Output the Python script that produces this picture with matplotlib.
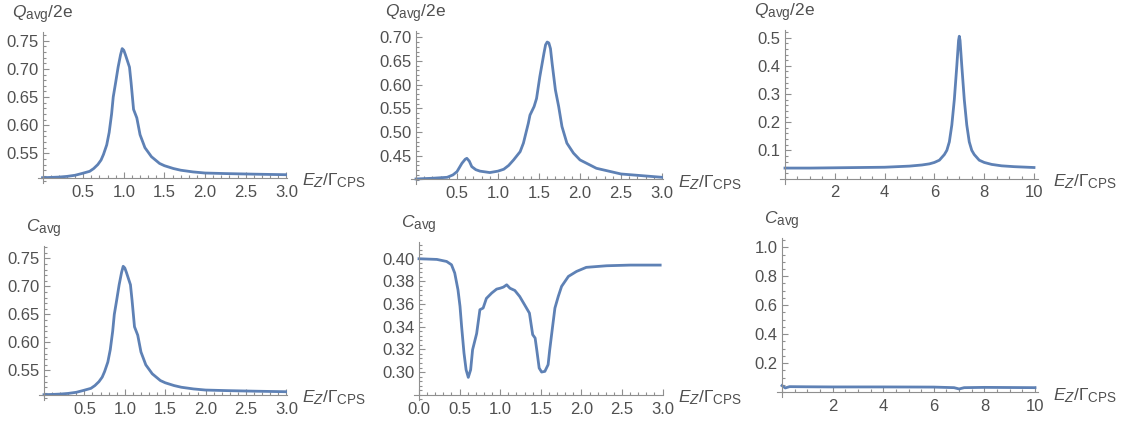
import matplotlib
matplotlib.use('Agg')
import matplotlib.pyplot as plt
from matplotlib.ticker import FixedLocator, FixedFormatter, MultipleLocator

try:
    import matplotlib._mathtext as _mt
    _mt.SHRINK_FACTOR = 0.78
except Exception:
    pass

plt.rcParams.update({
    'font.family': ['Liberation Sans', 'DejaVu Sans'],
    'mathtext.fontset': 'custom',
    'mathtext.rm': 'Liberation Sans',
    'mathtext.it': 'Liberation Sans:italic',
    'mathtext.bf': 'Liberation Sans:bold',
})

# ---------------- data ----------------
q_left_x = [0.00, 0.10, 0.20, 0.30, 0.40, 0.48, 0.53, 0.58, 0.63, 0.68, 0.72, 0.75, 0.79, 0.82,
            0.85, 0.87, 0.90, 0.93, 0.96, 0.98, 1.00, 1.02, 1.07, 1.09, 1.12, 1.16, 1.20, 1.26,
            1.34, 1.44, 1.50, 1.61, 1.70, 1.85, 2.00, 2.26, 2.60, 3.00]
q_left_y = [0.5067, 0.5072, 0.5078, 0.509, 0.511, 0.514, 0.516, 0.518, 0.523, 0.530, 0.538, 0.548,
            0.565, 0.587, 0.620, 0.650, 0.676, 0.703, 0.725, 0.736, 0.733, 0.725, 0.703, 0.675,
            0.628, 0.613, 0.583, 0.560, 0.544, 0.532, 0.528, 0.523, 0.520, 0.517, 0.515, 0.514,
            0.513, 0.512]

q_mid_x = [0.00, 0.20, 0.38, 0.45, 0.50, 0.56, 0.60, 0.62, 0.65, 0.68, 0.73, 0.78, 0.90, 1.00,
           1.07, 1.13, 1.19, 1.27, 1.31, 1.37, 1.39, 1.44, 1.47, 1.51, 1.56, 1.58, 1.60, 1.62,
           1.64, 1.66, 1.70, 1.74, 1.78, 1.84, 1.92, 2.00, 2.20, 2.50, 3.00]
q_mid_y = [0.4015, 0.403, 0.405, 0.410, 0.417, 0.4345, 0.443, 0.445, 0.439, 0.4275, 0.421, 0.418,
           0.415, 0.418, 0.422, 0.430, 0.4416, 0.459, 0.477, 0.519, 0.536, 0.554, 0.571, 0.617,
           0.666, 0.684, 0.690, 0.688, 0.676, 0.645, 0.589, 0.554, 0.512, 0.477, 0.456, 0.4416,
           0.424, 0.412, 0.405]

q_right_x = [0.0, 1.0, 2.0, 3.0, 4.0, 4.5, 5.0, 5.5, 5.8, 6.0, 6.2, 6.4, 6.5, 6.6, 6.7, 6.8, 6.9,
             6.97, 7.0, 7.03, 7.1, 7.2, 7.3, 7.4, 7.5, 7.6, 7.8, 8.0, 8.3, 8.7, 9.2, 10.0]
q_right_y = [0.037, 0.037, 0.038, 0.039, 0.040, 0.042, 0.044, 0.048, 0.052, 0.057, 0.065, 0.085,
             0.10, 0.13, 0.19, 0.28, 0.40, 0.49, 0.505, 0.49, 0.40, 0.28, 0.19, 0.13, 0.10, 0.085,
             0.065, 0.057, 0.050, 0.045, 0.042, 0.039]

c_left_x = list(q_left_x)
c_left_y = list(q_left_y)

c_mid_x = [0.00, 0.22, 0.34, 0.40, 0.44, 0.48, 0.505, 0.525, 0.554, 0.58, 0.607, 0.636, 0.66,
           0.71, 0.75, 0.79, 0.83, 0.895, 0.956, 1.00, 1.04, 1.08, 1.12, 1.18, 1.24, 1.30, 1.36,
           1.40, 1.43, 1.45, 1.48, 1.51, 1.55, 1.59, 1.61, 1.645, 1.674, 1.715, 1.756, 1.84,
           1.94, 2.06, 2.31, 2.60, 2.97]
c_mid_y = [0.400, 0.3994, 0.3976, 0.3947, 0.3874, 0.3726, 0.358, 0.340, 0.3168, 0.302, 0.2953,
           0.302, 0.3197, 0.334, 0.355, 0.3565, 0.365, 0.3697, 0.3732, 0.374, 0.375, 0.377, 0.374,
           0.372, 0.3667, 0.3594, 0.352, 0.333, 0.330, 0.3197, 0.3035, 0.300, 0.3006, 0.3065,
           0.3197, 0.340, 0.3565, 0.3667, 0.3756, 0.3844, 0.3888, 0.3924, 0.3938, 0.3944, 0.3944]

c_right_x = [0.0, 0.13, 0.3, 1.0, 2.0, 4.0, 6.0, 6.8, 7.0, 7.2, 8.0, 10.0]
c_right_y = [0.044, 0.028, 0.037, 0.036, 0.035, 0.035, 0.034, 0.030, 0.021, 0.030, 0.032, 0.030]

# tick values / labels
xt_short = [0.5, 1.0, 1.5, 2.0, 2.5, 3.0]
xt_short_lbl = ['0.5', '1.0', '1.5', '2.0', '2.5', '3.0']
xt_short0 = [0.0, 0.5, 1.0, 1.5, 2.0, 2.5, 3.0]
xt_short0_lbl = ['0.0', '0.5', '1.0', '1.5', '2.0', '2.5', '3.0']
xt_long = [2, 4, 6, 8, 10]
xt_long_lbl = ['2', '4', '6', '8', '10']
yt_q_left = [0.55, 0.60, 0.65, 0.70, 0.75]
yt_q_left_lbl = ['0.55', '0.60', '0.65', '0.70', '0.75']
yt_q_mid = [0.45, 0.50, 0.55, 0.60, 0.65, 0.70]
yt_q_mid_lbl = ['0.45', '0.50', '0.55', '0.60', '0.65', '0.70']
yt_q_right = [0.1, 0.2, 0.3, 0.4, 0.5]
yt_q_right_lbl = ['0.1', '0.2', '0.3', '0.4', '0.5']
yt_c_mid = [0.30, 0.32, 0.34, 0.36, 0.38, 0.40]
yt_c_mid_lbl = ['0.30', '0.32', '0.34', '0.36', '0.38', '0.40']
yt_c_right = [0.2, 0.4, 0.6, 0.8, 1.0]
yt_c_right_lbl = ['0.2', '0.4', '0.6', '0.8', '1.0']

q_label = r'$Q_{\mathrm{avg}}$/2e'
c_label = r'$C_{\mathrm{avg}}$'
x_label = r'$E_Z$/Γ$_{\mathrm{CPS}}$'

# ---------------- style ----------------
LINE = '#5E81B5'
AXC = '#8f8f8f'
TXT = '#505050'
FS = 12
FS_LAB = 12.5
W, H = 1140, 426

fig = plt.figure(figsize=(W / 100, H / 100), dpi=100)


def panel(px0, sx, py0, v0, sy, ptop, pright, ext=5):
    left = px0 - ext
    bottom_px = py0 + ext
    ax = fig.add_axes([left / W, (H - bottom_px) / H, (pright - left) / W, (bottom_px - ptop) / H])
    ax.set_xlim(-ext / sx, (pright - px0) / sx)
    ax.set_ylim(v0 - ext / sy, v0 + (py0 - ptop) / sy)
    ax.patch.set_alpha(0)
    for s in ('top', 'right'):
        ax.spines[s].set_visible(False)
    ax.spines['left'].set_position(('data', 0))
    ax.spines['bottom'].set_position(('data', v0))
    for s in ('left', 'bottom'):
        ax.spines[s].set_color(AXC)
        ax.spines[s].set_linewidth(0.8)
    ax.tick_params(which='both', direction='in', color=AXC, width=0.8,
                   labelcolor=TXT, labelsize=FS)
    ax.tick_params(which='major', length=4)
    ax.tick_params(which='minor', length=2.3)
    ax.tick_params(axis='x', pad=5)
    ax.tick_params(axis='y', pad=3)
    return ax


def setup(ax, v0, xt, xl, xminor, yt, yl, yminor, ylab):
    ax.xaxis.set_major_locator(FixedLocator(xt))
    ax.xaxis.set_major_formatter(FixedFormatter(xl))
    ax.xaxis.set_minor_locator(MultipleLocator(xminor))
    ax.yaxis.set_major_locator(FixedLocator(yt))
    ax.yaxis.set_major_formatter(FixedFormatter(yl))
    ax.yaxis.set_minor_locator(MultipleLocator(yminor))
    ax.annotate(ylab, xy=(0, 1), xycoords=('data', 'axes fraction'), xytext=(0, 14),
                textcoords='offset pixels', ha='center', va='baseline', color=TXT, fontsize=FS_LAB)
    ax.annotate(x_label, xy=(1, v0), xycoords=('axes fraction', 'data'), xytext=(15, -8),
                textcoords='offset pixels', ha='left', va='baseline', color=TXT, fontsize=FS_LAB)


# top row
ax1 = panel(42.5, 81.3, 177.7, 0.5067, 563, 32, 287)
ax1.plot(q_left_x, q_left_y, color=LINE, lw=2.0, solid_joinstyle='round')
setup(ax1, 0.5067, xt_short, xt_short_lbl, 0.1, yt_q_left, yt_q_left_lbl, 0.01, q_label)

ax2 = panel(416, 82.0, 179.3, 0.4008, 474.7, 31, 663)
ax2.plot(q_mid_x, q_mid_y, color=LINE, lw=2.0, solid_joinstyle='round')
setup(ax2, 0.4008, xt_short, xt_short_lbl, 0.1, yt_q_mid, yt_q_mid_lbl, 0.01, q_label)

ax3 = panel(785, 24.9, 178.5, 0.0, 281.7, 30, 1038)
ax3.plot(q_right_x, q_right_y, color=LINE, lw=2.0, solid_joinstyle='round')
setup(ax3, 0.0, xt_long, xt_long_lbl, 0.5, yt_q_right, yt_q_right_lbl, 0.02, q_label)

# bottom row
ax4 = panel(44, 80.8, 394.7, 0.5067, 560, 246, 287)
ax4.plot(c_left_x, c_left_y, color=LINE, lw=2.0, solid_joinstyle='round')
setup(ax4, 0.5067, xt_short, xt_short_lbl, 0.1, yt_q_left, yt_q_left_lbl, 0.01, c_label)

ax5 = panel(419, 81.2, 394.7, 0.28, 1133, 242, 663)
ax5.plot(c_mid_x, c_mid_y, color=LINE, lw=2.0, solid_joinstyle='round')
setup(ax5, 0.28, xt_short0, xt_short0_lbl, 0.1, yt_c_mid, yt_c_mid_lbl, 0.004, c_label)

ax6 = panel(782, 25.3, 392, 0.0, 144.7, 238, 1038)
ax6.plot(c_right_x, c_right_y, color=LINE, lw=2.0, solid_joinstyle='round')
setup(ax6, 0.0, xt_long, xt_long_lbl, 0.5, yt_c_right, yt_c_right_lbl, 0.05, c_label)

fig.savefig('out.png', dpi=100)
